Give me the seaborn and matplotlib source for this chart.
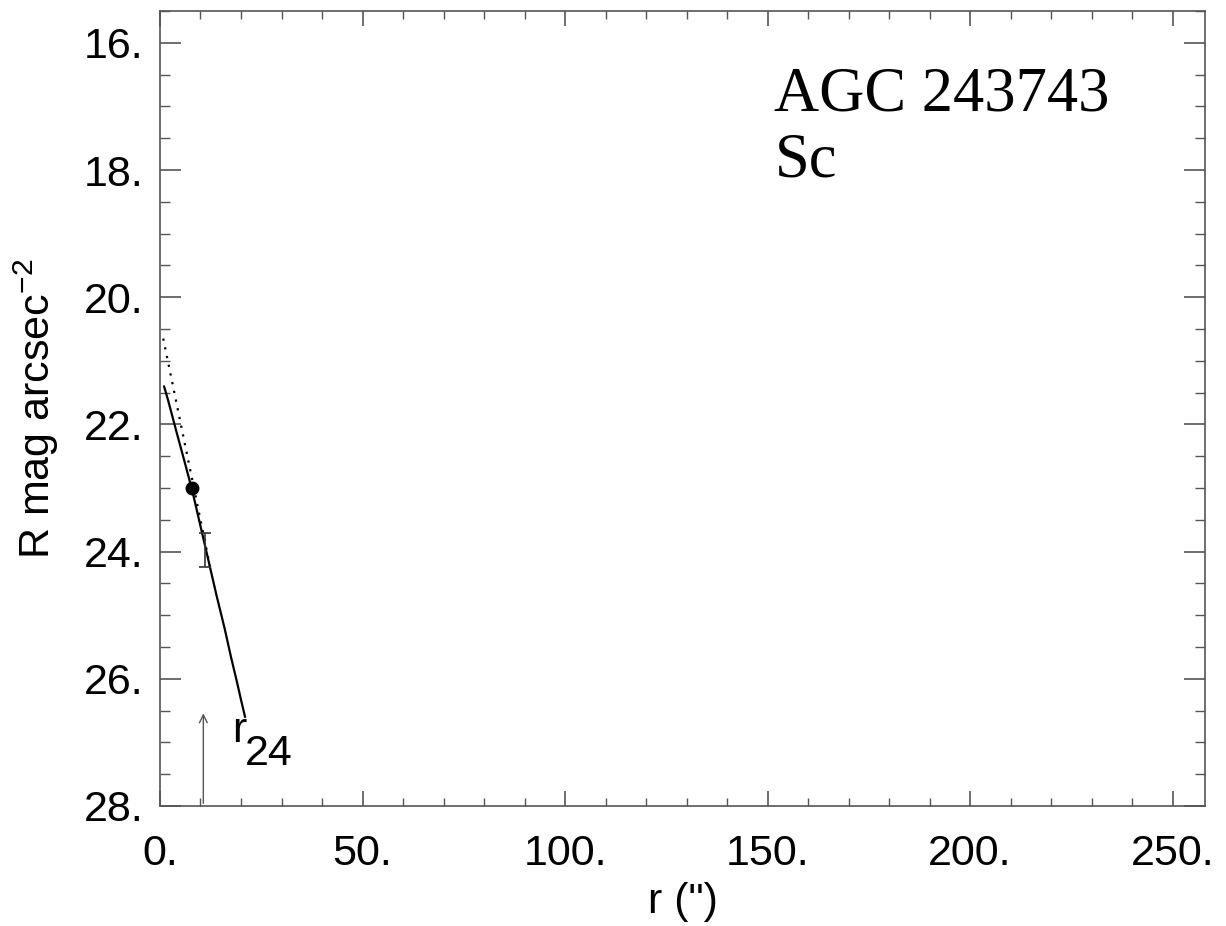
import matplotlib
matplotlib.use("Agg")
import matplotlib.pyplot as plt
import numpy as np
import pandas as pd
import seaborn as sns
from matplotlib.ticker import MultipleLocator, FuncFormatter

# surface brightness profile
r_prof = [1, 2, 4, 6, 8, 10, 12, 14, 16, 17.5, 19, 20, 21]
mu_prof = [21.4, 21.62, 22.1, 22.57, 23.05, 23.6, 24.15, 24.7, 25.22, 25.65, 26.05, 26.33, 26.6]

# dotted disk fit
r_fit = [0.8, 12.4]
mu_fit = [20.65, 24.25]

# effective radius point, error bar, r24 marker
r_eff, mu_eff = 7.9, 23.0
r_err, mu_err, err_half = 11.1, 23.98, 0.27
r24 = 10.7
mu24 = 26.5

name = "AGC 243743"
morph = "Sc"

sns.set_theme(style="ticks")
plt.rcParams['font.family'] = ['Liberation Sans', 'DejaVu Sans']
plt.rcParams['text.color'] = 'black'
plt.rcParams['axes.labelcolor'] = 'black'
plt.rcParams['mathtext.fontset'] = 'custom'
plt.rcParams['mathtext.rm'] = 'Liberation Sans'
plt.rcParams['mathtext.it'] = 'Liberation Sans'

fig = plt.figure(figsize=(12.26, 9.26), dpi=100)
ax = fig.add_axes([0.1305, 0.1296, 0.8524, 0.8585])

prof = pd.DataFrame({'r': r_prof, 'mu': mu_prof})
fit = pd.DataFrame({'r': r_fit, 'mu': mu_fit})

sns.lineplot(data=prof, x='r', y='mu', ax=ax, color='black', lw=1.6, sort=False)
sns.lineplot(data=fit, x='r', y='mu', ax=ax, color='black', lw=1.6,
             linestyle=(0, (1, 3)), sort=False)
ax.plot([r_eff], [mu_eff], 'o', color='black', ms=9)
ax.errorbar([r_err], [mu_err], yerr=[err_half], color='#333333', lw=1.2,
            capsize=4, capthick=1.2)
ax.annotate('', xy=(r24, mu24), xytext=(r24, 28.0),
            arrowprops=dict(arrowstyle='->', color='#555555', lw=1.0,
                            mutation_scale=14))
ax.text(17.8, 27.0, 'r', fontsize=31, color='black')
ax.text(21.0, 27.36, '24', fontsize=31, color='black')

ax.text(0.588, 0.93, name + "\n" + morph, transform=ax.transAxes,
        fontsize=45, family=['Liberation Serif'], va='top', ha='left',
        linespacing=1.18, color='black')

ax.set_xlim(0, 258)
ax.set_ylim(28, 15.5)
ax.xaxis.set_major_locator(MultipleLocator(50))
ax.xaxis.set_minor_locator(MultipleLocator(10))
ax.yaxis.set_major_locator(MultipleLocator(2))
ax.yaxis.set_minor_locator(MultipleLocator(0.5))
fmt = FuncFormatter(lambda v, p: f"{int(round(v))}.")
ax.xaxis.set_major_formatter(fmt)
ax.yaxis.set_major_formatter(fmt)

ax.tick_params(which='both', direction='in', top=True, right=True,
               colors='#555555', labelcolor='black', labelsize=31)
ax.tick_params(axis='x', which='major', length=11, width=1.2, pad=20)
ax.tick_params(axis='x', which='minor', length=6, width=1.0)
ax.tick_params(axis='y', which='major', length=15, width=1.2, pad=12)
ax.tick_params(axis='y', which='minor', length=7, width=1.0)
for s in ax.spines.values():
    s.set_color('#555555')
    s.set_linewidth(1.2)

ax.set_xlabel('r (")', fontsize=31, labelpad=6)
ax.set_ylabel('R mag arcsec$^{-2}$', fontsize=31, labelpad=16)

fig.savefig('out.png', dpi=100)
